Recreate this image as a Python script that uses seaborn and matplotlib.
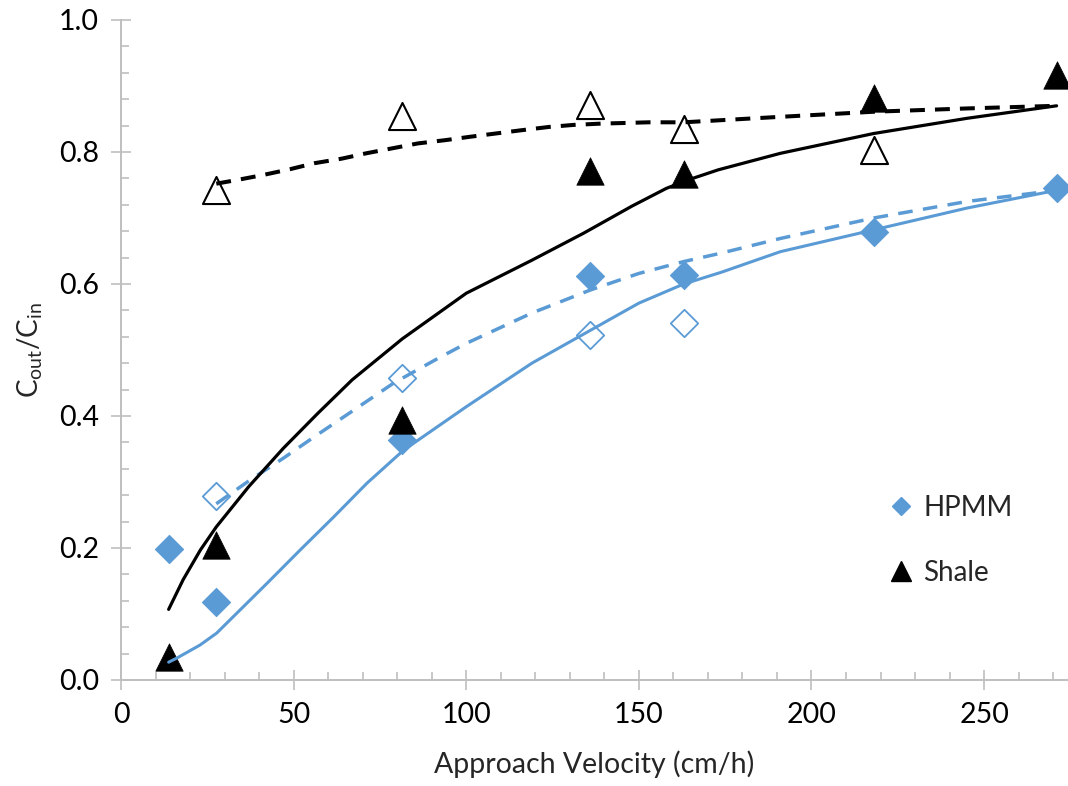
import matplotlib
matplotlib.use("Agg")
import matplotlib.pyplot as plt
import seaborn as sns
from matplotlib.lines import Line2D
from matplotlib.ticker import MultipleLocator

# ---- data ----
velocity = [13.8, 27.6, 81.5, 135.8, 163.0, 218.0, 271.0]
hpmm_filled = [0.198, 0.118, 0.364, 0.612, 0.614, 0.679, 0.745]
shale_filled = [0.035, 0.205, 0.394, 0.771, 0.767, 0.882, 0.917]

hpmm_open_x = [27.6, 81.5, 135.8, 163.0]
hpmm_open = [0.279, 0.458, 0.523, 0.541]
shale_open_x = [27.6, 81.5, 135.8, 163.0, 218.0]
shale_open = [0.742, 0.855, 0.871, 0.835, 0.803]

# fitted curves
shale_fit_x = [13.8, 18, 23, 27.6, 37, 47, 57, 67, 81.5, 100, 119, 134,
               148, 158, 165, 173, 191, 218, 245, 271]
shale_fit = [0.107, 0.152, 0.197, 0.232, 0.293, 0.351, 0.404, 0.455, 0.517,
             0.586, 0.636, 0.677, 0.718, 0.745, 0.759, 0.773, 0.798,
             0.828, 0.851, 0.870]

shale_open_fit_x = [27.6, 34, 41, 49, 56, 64, 71, 79, 86, 94, 101, 116, 124,
                    131, 139, 153, 163, 190, 218, 245, 271]
shale_open_fit = [0.752, 0.758, 0.765, 0.774, 0.783, 0.790, 0.798, 0.806,
                  0.813, 0.818, 0.823, 0.833, 0.838, 0.841, 0.843, 0.845,
                  0.845, 0.853, 0.861, 0.866, 0.870]

hpmm_fit_x = [13.8, 16.1, 22.9, 27.7, 33.5, 42.2, 51.9, 61.6, 71.2, 81.8, 100,
              119, 135, 150, 163, 174, 191, 218, 245, 271]
hpmm_fit = [0.027, 0.033, 0.053, 0.071, 0.101, 0.146, 0.197, 0.247, 0.298,
            0.348, 0.414, 0.480, 0.527, 0.571, 0.600, 0.618, 0.649, 0.682,
            0.715, 0.742]

hpmm_open_fit_x = [27.6, 37.4, 47, 56.7, 68.3, 79, 92.4, 100, 119, 136, 150,
                   163, 174, 191, 218, 245, 271]
hpmm_open_fit = [0.267, 0.303, 0.336, 0.371, 0.412, 0.450, 0.489, 0.510,
                 0.556, 0.591, 0.616, 0.634, 0.647, 0.669, 0.700, 0.725, 0.742]

x_ticks = [0, 50, 100, 150, 200, 250]
y_ticks = [0.0, 0.2, 0.4, 0.6, 0.8, 1.0]
legend_labels = ["HPMM", "Shale"]

BLUE = "#5B9BD5"
BLACK = "#000000"
GRAY = "#BFBFBF"

sns.set_style("white")
plt.rcParams["font.family"] = ["Lato", "DejaVu Sans"]
plt.rcParams["mathtext.fontset"] = "custom"
plt.rcParams["mathtext.rm"] = "Lato"
plt.rcParams["mathtext.it"] = "Lato"

fig = plt.figure(figsize=(10.68, 7.86), dpi=100)
ax = fig.add_axes([121 / 1068, 1 - 680 / 786, 1 - 121 / 1068, 660 / 786])

# markers
sns.scatterplot(x=velocity, y=hpmm_filled, marker="D", s=205, color=BLUE,
                edgecolor=BLUE, linewidth=0.8, ax=ax, zorder=3, clip_on=False)
sns.scatterplot(x=hpmm_open_x, y=hpmm_open, marker="D", s=195, facecolor="white",
                edgecolor=BLUE, linewidth=1.3, ax=ax, zorder=3, clip_on=False)
sns.scatterplot(x=velocity, y=shale_filled, marker="^", s=390, color=BLACK,
                edgecolor=BLACK, linewidth=0.5, ax=ax, zorder=3, clip_on=False)
sns.scatterplot(x=shale_open_x, y=shale_open, marker="^", s=380, facecolor="white",
                edgecolor=BLACK, linewidth=1.5, ax=ax, zorder=3, clip_on=False)

# fitted curves
sns.lineplot(x=hpmm_fit_x, y=hpmm_fit, color=BLUE, lw=2.2, sort=False,
             estimator=None, ax=ax, zorder=4)
sns.lineplot(x=hpmm_open_fit_x, y=hpmm_open_fit, color=BLUE, lw=2.5, sort=False,
             estimator=None, ax=ax, zorder=4, linestyle=(0, (4.2, 3.0)))
sns.lineplot(x=shale_fit_x, y=shale_fit, color=BLACK, lw=2.3, sort=False,
             estimator=None, ax=ax, zorder=4)
sns.lineplot(x=shale_open_fit_x, y=shale_open_fit, color=BLACK, lw=2.9, sort=False,
             estimator=None, ax=ax, zorder=4, linestyle=(0, (3.7, 2.5)))

ax.set_xlim(0, 274.3)
ax.set_ylim(0, 1.0)
ax.set_xticks(x_ticks)
ax.set_xticklabels([str(v) for v in x_ticks])
ax.set_yticks(y_ticks)
ax.set_yticklabels([f"{v:.1f}" for v in y_ticks])
ax.xaxis.set_minor_locator(MultipleLocator(10))
ax.yaxis.set_minor_locator(MultipleLocator(0.04))

for side in ["top", "right"]:
    ax.spines[side].set_visible(False)
for side in ["left", "bottom"]:
    ax.spines[side].set_color(GRAY)
    ax.spines[side].set_linewidth(1.4)

ax.tick_params(which="major", direction="inout", length=14, width=1.2, color=GRAY,
               labelsize=20.5, labelcolor="black", pad=9)
ax.tick_params(which="minor", direction="in", length=5.5, width=1.2, color=GRAY)
ax.tick_params(axis="x", which="both", bottom=True)
ax.tick_params(axis="y", which="both", left=True)

ax.set_xlabel("Approach Velocity (cm/h)", fontsize=20.5, labelpad=16)
ax.set_ylabel(r"C$_{\mathrm{out}}$/C$_{\mathrm{in}}$", fontsize=20, labelpad=10)

handles = [
    Line2D([], [], marker="D", ls="", color=BLUE, markersize=9.5),
    Line2D([], [], marker="^", ls="", color=BLACK, markersize=14),
]
ax.legend(handles, legend_labels, loc="upper left", bbox_to_anchor=(0.80, 0.297),
          frameon=False, fontsize=20, handlelength=0.8, handletextpad=0.4,
          labelspacing=1.4, borderaxespad=0)

fig.savefig("out.png", dpi=100)
